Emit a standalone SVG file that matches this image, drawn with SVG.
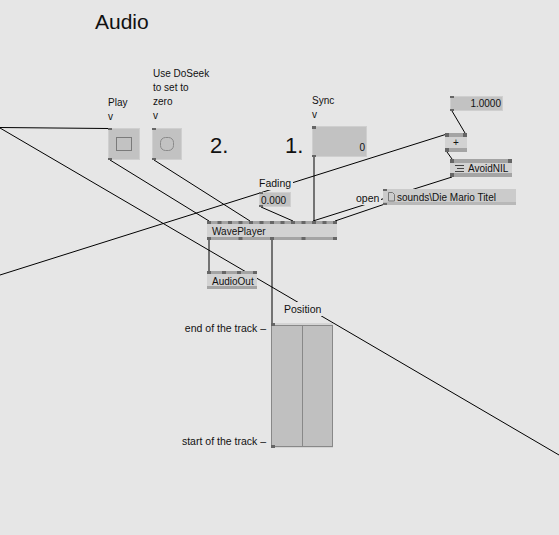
<svg xmlns="http://www.w3.org/2000/svg" width="559" height="535" viewBox="0 0 559 535">
<style>
text{font-family:"Liberation Sans",Arial,sans-serif;font-size:10px;fill:#111}
.title{font-size:21px}
.big{font-size:22px}
.lab{font-size:10.5px}
.link{stroke:#000;stroke-width:1;fill:none}
.pin{fill:#666}
.strip{fill:#a4a4a4}
.body{fill:#d2d2d2}
.io{fill:#c2c2c2;stroke:#cfcfcf;stroke-width:1}
.lbg{fill:#e6e6e6}
</style>
<rect width="559" height="535" fill="#e6e6e6"/>
<g id="connectors">
<line class="link" x1="0" y1="127.5" x2="108" y2="128.5"/>
<line class="link" x1="0" y1="128" x2="559" y2="455"/>
<line class="link" x1="0" y1="275" x2="447" y2="134"/>
<line class="link" x1="110" y1="160" x2="209" y2="221"/>
<line class="link" x1="154" y1="160" x2="250" y2="221"/>
<line class="link" x1="261" y1="207" x2="293" y2="221"/>
<line class="link" x1="314" y1="157" x2="314" y2="221"/>
<line class="link" x1="452" y1="177" x2="313" y2="221"/>
<line class="link" x1="385" y1="204" x2="335" y2="221"/>
<line class="link" x1="452" y1="111" x2="465" y2="133"/>
<line class="link" x1="447" y1="152" x2="452" y2="159"/>
<line class="link" x1="209" y1="240" x2="209" y2="271"/>
<line class="link" x1="272" y1="240" x2="272" y2="323"/>
</g>
<g id="title"><text class="title" x="95" y="29">Audio</text></g>
<g id="steps"><text class="big" x="210" y="153">2.</text><text class="big" x="285" y="153">1.</text></g>
<g id="play">
<text x="108" y="106">Play</text><text x="108" y="120">v</text>
<rect class="io" x="108.5" y="128.5" width="31" height="31"/>
<rect x="116.5" y="137.5" width="15" height="13" fill="none" stroke="#7a7a7a"/>
<rect class="pin" x="108" y="128" width="4" height="2"/><rect class="pin" x="108" y="158" width="4" height="2"/>
</g>
<g id="doseek">
<text x="153" y="77">Use DoSeek</text><text x="153" y="91">to set to</text><text x="153" y="105">zero</text><text x="153" y="119">v</text>
<rect class="io" x="152.5" y="128.5" width="29" height="31"/>
<rect x="160.5" y="137.5" width="13" height="13" rx="5" fill="none" stroke="#8a8a8a"/>
<rect class="pin" x="152" y="128" width="4" height="2"/><rect class="pin" x="152" y="158" width="4" height="2"/>
</g>
<g id="sync">
<text x="312" y="104">Sync</text><text x="312" y="118">v</text>
<rect class="io" x="312.5" y="126.5" width="54" height="30"/>
<text x="365" y="151" text-anchor="end">0</text>
<rect class="pin" x="312" y="126" width="4" height="3"/><rect class="pin" x="312" y="155" width="4" height="2"/>
</g>
<g id="fading">
<rect class="lbg" x="257" y="177" width="36" height="13"/>
<text class="lab" x="259" y="187">Fading</text>
<rect class="io" x="259.5" y="192.5" width="31" height="14"/>
<text x="261" y="204">0.000</text>
<rect class="pin" x="259" y="192" width="4" height="2"/><rect class="pin" x="259" y="205" width="4" height="2"/>
</g>
<g id="one">
<rect class="io" x="450.5" y="96.5" width="52" height="14"/>
<text x="501" y="107" text-anchor="end">1.0000</text>
<rect class="pin" x="450" y="96" width="4" height="2"/><rect class="pin" x="450" y="109" width="4" height="2"/>
</g>
<g id="plus">
<rect class="body" x="445" y="133" width="22" height="19"/>
<rect class="strip" x="445" y="133" width="22" height="4"/><rect class="strip" x="445" y="148" width="22" height="4"/>
<rect class="pin" x="445" y="133" width="4" height="4"/><rect class="pin" x="463" y="133" width="4" height="4"/><rect class="pin" x="445" y="148" width="4" height="4"/>
<text x="456" y="146" text-anchor="middle">+</text>
</g>
<g id="avoidnil">
<rect class="body" x="450" y="159" width="62" height="18"/>
<rect class="strip" x="450" y="159" width="62" height="4"/><rect class="strip" x="450" y="173" width="62" height="4"/>
<rect class="pin" x="450" y="159" width="4" height="4"/><rect class="pin" x="508" y="159" width="4" height="4"/><rect class="pin" x="450" y="173" width="4" height="4"/>
<path d="M455 165.5h9M457 168.5h7M455 171.5h9" stroke="#444" stroke-width="1"/>
<text x="468" y="172">AvoidNIL</text>
</g>
<g id="filename">
<rect class="lbg" x="354" y="192" width="27" height="13"/>
<text class="lab" x="356" y="202">open</text>
<rect x="383" y="189" width="133" height="16" fill="#cbcbcb"/>
<rect x="383" y="202" width="133" height="3" fill="#b8b8b8"/>
<path d="M388.5 192.5h4l2 2v6.5h-6z" fill="none" stroke="#777"/>
<text x="397" y="201">sounds\Die Mario Titel</text>
<rect class="pin" x="383" y="189" width="4" height="2"/><rect class="pin" x="383" y="203" width="4" height="2"/>
</g>
<g id="waveplayer">
<rect class="body" x="207" y="221" width="130" height="19"/>
<rect class="strip" x="207" y="221" width="130" height="3"/><rect class="strip" x="207" y="237" width="130" height="3"/>
<g class="pin">
<rect x="207" y="221" width="4" height="3"/><rect x="217.5" y="221" width="4" height="3"/><rect x="228" y="221" width="4" height="3"/><rect x="238.5" y="221" width="4" height="3"/><rect x="249" y="221" width="4" height="3"/><rect x="259.5" y="221" width="4" height="3"/><rect x="270" y="221" width="4" height="3"/><rect x="280.5" y="221" width="4" height="3"/><rect x="291" y="221" width="4" height="3"/><rect x="301.5" y="221" width="4" height="3"/><rect x="312" y="221" width="4" height="3"/><rect x="322.5" y="221" width="4" height="3"/><rect x="333" y="221" width="4" height="3"/>
<rect x="207" y="237" width="4" height="3"/><rect x="238.5" y="237" width="4" height="3"/><rect x="270" y="237" width="4" height="3"/><rect x="301.5" y="237" width="4" height="3"/><rect x="333" y="237" width="4" height="3"/>
</g>
<text x="212" y="235">WavePlayer</text>
</g>
<g id="audioout">
<rect class="body" x="207" y="271" width="50" height="18"/>
<rect class="strip" x="207" y="271" width="50" height="3"/><rect class="strip" x="207" y="286" width="50" height="3"/>
<g class="pin"><rect x="207" y="271" width="4" height="3"/><rect x="222" y="271" width="4" height="3"/><rect x="237" y="271" width="4" height="3"/><rect x="253" y="271" width="4" height="3"/></g>
<text x="212" y="285">AudioOut</text>
</g>
<g id="position">
<rect class="lbg" x="281" y="302" width="44" height="14"/>
<text class="lab" x="284" y="313">Position</text>
<text class="lab" x="266" y="332" text-anchor="end">end of the track –</text>
<text class="lab" x="266" y="445" text-anchor="end">start of the track –</text>
<rect x="271" y="323" width="62" height="125" fill="#d4d4d4"/>
<rect x="271.5" y="325.5" width="61" height="121" fill="#c0c0c0" stroke="#888"/>
<line x1="302.5" y1="326" x2="302.5" y2="446" stroke="#888"/>
<rect class="pin" x="271" y="323" width="4" height="3"/><rect class="pin" x="271" y="445" width="4" height="3"/>
</g>
</svg>
